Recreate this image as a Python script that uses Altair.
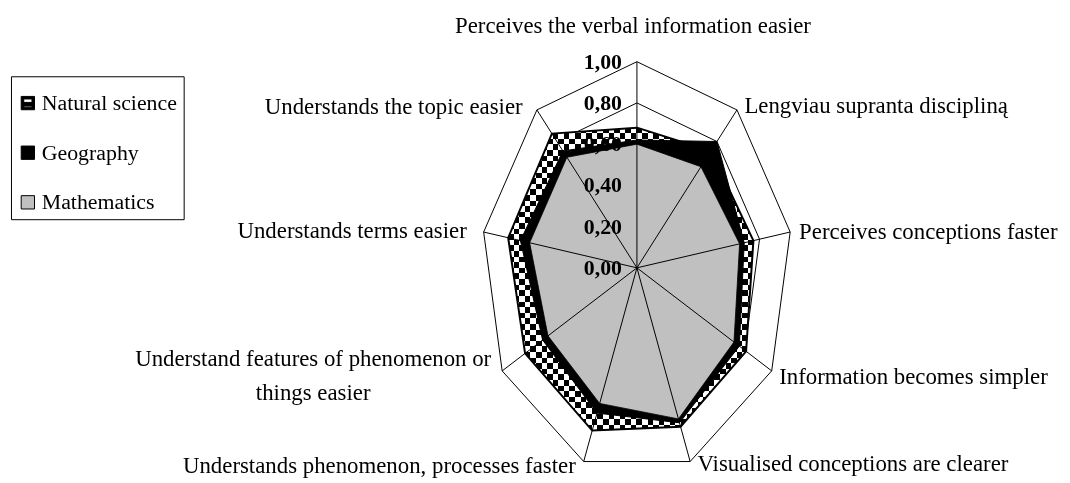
import math
import altair as alt
import pandas as pd

# ---------------- data ----------------
categories = [
    "Perceives the verbal information easier",
    "Lengviau supranta discipliną",
    "Perceives conceptions faster",
    "Information becomes simpler",
    "Visualised conceptions are clearer",
    "Understands phenomenon, processes faster",
    "Understand features of phenomenon or\nthings easier",
    "Understands terms easier",
    "Understands the topic easier",
]
series_names = ["Natural science", "Geography", "Mathematics"]
natural_science = [0.68, 0.74, 0.76, 0.81, 0.82, 0.84, 0.83, 0.84, 0.85]
geography = [0.62, 0.80, 0.70, 0.76, 0.80, 0.75, 0.70, 0.76, 0.74]
mathematics = [0.60, 0.64, 0.67, 0.72, 0.78, 0.70, 0.66, 0.70, 0.70]
tick_values = [0.0, 0.2, 0.4, 0.6, 0.8, 1.0]
tick_labels = ["0,00", "0,20", "0,40", "0,60", "0,80", "1,00"]

# ---------------- layout / style ----------------
W, H = 1062, 475
RX, RY = 156.8, 207.7          # px per unit radius (horizontal / vertical)
CX, CY = 633.7, 260.0          # centre of the radar in plot px
FONT = "Liberation Serif"
GRAY = "#c0c0c0"
CELL = 5.6                     # checker cell size in px

# label placement: (align, dx, dy)
label_style = [
    ("center", -4, -28.6),
    ("left", 7.5, 3),
    ("left", 9, 7.4),
    ("left", 7.5, 13),
    ("left", 7.4, 10),
    ("right", -8, 12),
    ("center", -190.4, -5.2),
    ("right", -17, 6.4),
    ("right", -14.4, 4),
]

n = len(categories)


def polar(value, i):
    t = 2 * math.pi * i / n
    return value * math.sin(t), value * math.cos(t)


rows = []
for name, vals in zip(series_names, [natural_science, geography, mathematics]):
    for i, v in enumerate(vals):
        x, y = polar(v, i)
        rows.append({"series": name, "idx": i, "value": v, "x": x, "y": y})
series_df = pd.DataFrame(rows)

ring_rows = []
for lv in tick_values[1:]:
    for i in range(n):
        x, y = polar(lv, i)
        ring_rows.append({"level": lv, "idx": i, "x": x, "y": y})
ring_df = pd.DataFrame(ring_rows)

spoke_rows = []
for i in range(n):
    x0, y0 = polar(0, i)
    x1, y1 = polar(tick_values[-1], i)
    spoke_rows.append({"idx": i, "x": x0, "y": y0, "x2": x1, "y2": y1})
spoke_df = pd.DataFrame(spoke_rows)

tick_df = pd.DataFrame(
    {"label": tick_labels, "x": [polar(v, 0)[0] for v in tick_values],
     "y": [polar(v, 0)[1] for v in tick_values]}
)

cat_rows = []
for i, c in enumerate(categories):
    x, y = polar(tick_values[-1], i)
    cat_rows.append({"idx": i, "label": c, "x": x, "y": y})
cat_df = pd.DataFrame(cat_rows)

legend_df = pd.DataFrame(
    {"series": series_names, "x": [polar(0, 0)[0]] * 3, "y": [polar(0, 0)[1]] * 3}
)

# ---------------- scales ----------------
xs = alt.Scale(domain=[-CX / RX, (W - CX) / RX], nice=False, zero=False)
ys = alt.Scale(domain=[-(H - CY) / RY, CY / RY], nice=False, zero=False)
X = alt.X("x:Q", scale=xs, axis=None)
Y = alt.Y("y:Q", scale=ys, axis=None)

# ---------------- checker pattern via two striped gradients ----------------
ns_df = series_df[series_df.series == "Natural science"]
w_px = (ns_df.x.max() - ns_df.x.min()) * RX
h_px = (ns_df.y.max() - ns_df.y.min()) * RY


def stripes(count, first, second, horizontal):
    stops = []
    for k in range(count):
        col = first if k % 2 == 0 else second
        stops.append({"offset": k / count, "color": col})
        stops.append({"offset": (k + 1) / count, "color": col})
    g = {"gradient": "linear", "stops": stops}
    if horizontal:
        g.update({"x1": 0, "x2": 0, "y1": 0, "y2": 1})
    else:
        g.update({"x1": 0, "x2": 1, "y1": 0, "y2": 0})
    return g


grad_rows = stripes(max(2, round(h_px / CELL)), "black", "white", True)
grad_cols = stripes(max(2, round(w_px / CELL)), "white", "black", False)

# ---------------- layers ----------------
ns_path = "M-1,-1H1V1H-1Z M-0.62,-0.62V0.62H0.62V-0.62Z M-0.62,-0.1H0.62V0.45H-0.62Z"
leg = alt.Legend(
    title=" ", titleFontSize=10, titlePadding=0, orient="none", legendX=3, legendY=67,
    labelFont=FONT, labelFontSize=22, labelColor="black", labelLimit=300,
    symbolSize=180, symbolStrokeColor="black", symbolStrokeWidth=1,
    strokeColor="black", padding=6, rowPadding=28, labelOffset=3,
    fillColor="white",
)
legend_layer = alt.Chart(legend_df).mark_point(
    filled=True, strokeWidth=1, opacity=1
).encode(
    x=X, y=Y,
    fill=alt.Fill("series:N", scale=alt.Scale(domain=series_names, range=["black", "black", GRAY]), legend=leg),
    stroke=alt.Stroke("series:N", scale=alt.Scale(domain=series_names, range=["black", "black", "black"]), legend=leg),
    shape=alt.Shape("series:N", scale=alt.Scale(domain=series_names, range=[ns_path, "square", "square"]), legend=leg),
)

rings = alt.Chart(ring_df).mark_line(
    interpolate="linear-closed", stroke="black", strokeWidth=1
).encode(x=X, y=Y, detail="level:N", order="idx:Q")

ns_base = alt.Chart(series_df).transform_filter(alt.datum.series == "Natural science")
ns_a = ns_base.mark_line(interpolate="linear-closed", fill=grad_rows, strokeWidth=0).encode(x=X, y=Y, order="idx:Q")
ns_b = ns_base.mark_line(interpolate="linear-closed", fill=grad_cols, strokeWidth=0, blend="difference").encode(x=X, y=Y, order="idx:Q")
ns_c = ns_base.mark_line(interpolate="linear-closed", stroke="black", strokeWidth=2).encode(x=X, y=Y, order="idx:Q")

geo = alt.Chart(series_df).transform_filter(alt.datum.series == "Geography").mark_line(
    interpolate="linear-closed", fill="black", stroke="black", strokeWidth=1
).encode(x=X, y=Y, order="idx:Q")

mat = alt.Chart(series_df).transform_filter(alt.datum.series == "Mathematics").mark_line(
    interpolate="linear-closed", fill=GRAY, stroke="black", strokeWidth=0.8
).encode(x=X, y=Y, order="idx:Q")

spokes = alt.Chart(spoke_df).mark_rule(stroke="black", strokeWidth=1).encode(
    x=X, y=Y, x2="x2:Q", y2="y2:Q"
)

ticks = alt.Chart(tick_df).mark_text(
    align="right", baseline="middle", dx=-15, font=FONT, fontSize=22,
    fontWeight="bold", color="black"
).encode(x=X, y=Y, text="label:N")

label_layers = []
for i, (al, dx, dy) in enumerate(label_style):
    label_layers.append(
        alt.Chart(cat_df).transform_filter(alt.datum.idx == i).mark_text(
            align=al, baseline="alphabetic", dx=dx, dy=dy, font=FONT,
            fontSize=23, color="black", lineBreak="\n", lineHeight=35
        ).encode(x=X, y=Y, text="label:N")
    )

chart = alt.layer(
    legend_layer, rings, ns_a, ns_b, ns_c, geo, mat, spokes, ticks, *label_layers
).properties(
    width=W, height=H, padding=0, autosize=alt.AutoSizeParams(type="none"),
    background="white",
).configure_view(strokeWidth=0)

chart.save("out.html", embed_options={"renderer": "svg", "actions": False})
